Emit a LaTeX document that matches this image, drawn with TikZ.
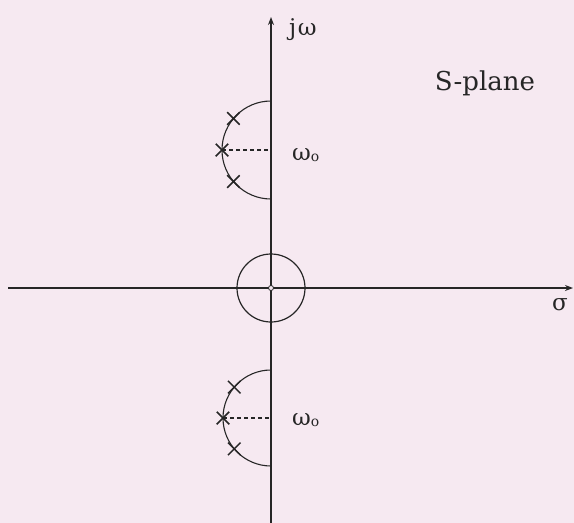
\documentclass[tikz,border=0pt]{standalone}
\usepackage{fontspec}
\setmainfont{DejaVu Serif}
\usetikzlibrary{shapes.misc,arrows.meta}
\definecolor{bg}{HTML}{F6E9F1}
\definecolor{ink}{HTML}{262626}
\begin{document}
\begin{tikzpicture}[x=1pt,y=-1pt,
  axis/.style={draw=ink,line width=1.4pt,-{Stealth[length=8pt,width=6pt]}},
  curve/.style={draw=ink,line width=1.1pt},
  pole/.style={cross out,draw=ink,line width=1.5pt,minimum size=11pt,inner sep=0pt},
  dashline/.style={draw=ink,line width=1.3pt,dash pattern=on 4pt off 3pt},
  lbl/.style={text=ink,font=\fontsize{23}{27}\selectfont,inner sep=0pt}]
\fill[bg] (0,0) rectangle (574,523);
\useasboundingbox (0,0) rectangle (574,523);
% axes
\coordinate (xl) at (8,288);
\coordinate (xr) at (573,288);
\coordinate (yb) at (271,523);
\coordinate (yt) at (271,17);
\draw[axis] (xl) -- (xr);
\draw[axis] (yb) -- (yt);
% origin circle
\node[circle,draw=ink,line width=1.2pt,minimum size=68pt,inner sep=0pt] (zc) at (271,288) {};
\node[circle,draw=ink,fill=bg,line width=0.8pt,minimum size=5pt,inner sep=0pt] (o) at (271,288) {};
% upper pole arc
\coordinate (tc) at (271,150);
\draw[curve] ([shift={(-90:49)}]tc) arc[start angle=-90,end angle=-270,radius=49];
\node[pole] (p1) at ([shift={(180-40:49)}]tc) {};
\node[pole] (p2) at ([shift={(180:49)}]tc) {};
\node[pole] (p3) at ([shift={(180+40:49)}]tc) {};
\draw[dashline] (p2.center) -- (tc);
% lower pole arc
\coordinate (bc) at (271,418);
\draw[curve] ([shift={(-90:48)}]bc) arc[start angle=-90,end angle=-270,radius=48];
\node[pole] (q1) at ([shift={(180-40:48)}]bc) {};
\node[pole] (q2) at ([shift={(180:48)}]bc) {};
\node[pole] (q3) at ([shift={(180+40:48)}]bc) {};
\draw[dashline] (q2.center) -- (bc);
% labels
\node[lbl,anchor=base west] (jw) at (289,35) {j\kern1.5ptω};
\node[lbl,anchor=base west] (w1) at (292,160) {ω\raisebox{-1pt}{\fontsize{14}{16}\selectfont o}};
\node[lbl,anchor=base west] (w2) at (292,425) {ω\raisebox{-1pt}{\fontsize{14}{16}\selectfont o}};
\node[lbl,anchor=base] (sig) at (560,310) {σ};
\node[lbl,font=\fontsize{26}{31}\selectfont,anchor=base] (sp) at (485,90) {S-plane};
\end{tikzpicture}
\end{document}
